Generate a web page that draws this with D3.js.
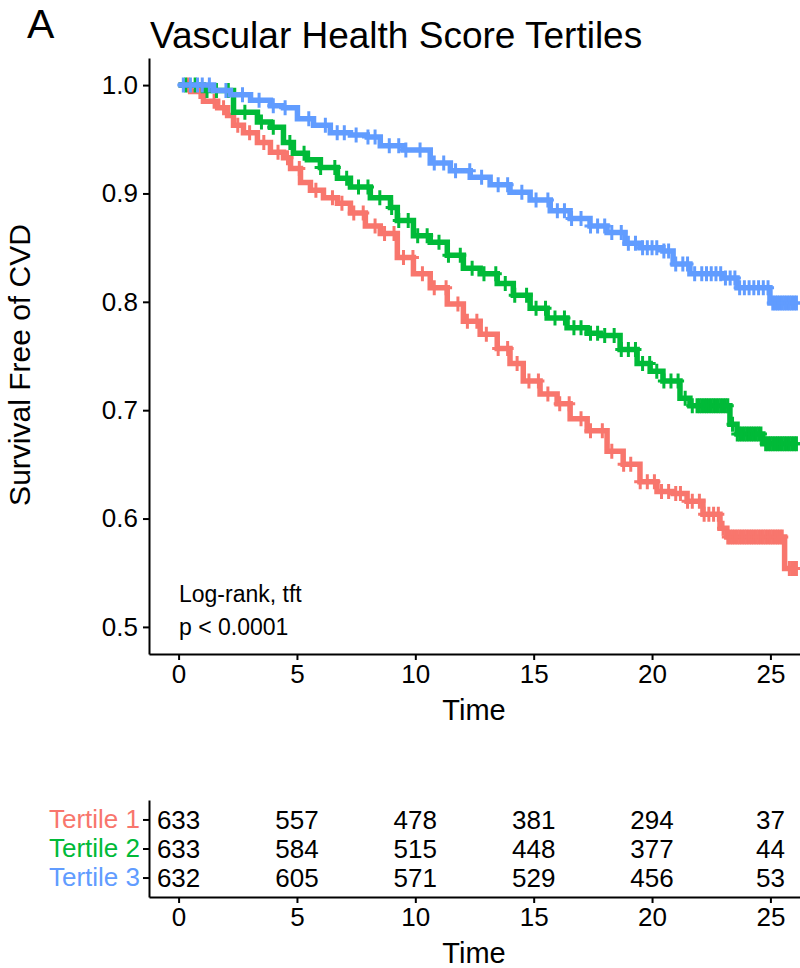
<!DOCTYPE html>
<html>
<head>
<meta charset="utf-8">
<script src="https://cdn.jsdelivr.net/npm/d3@7"></script>
<style>
  body { margin: 0; background: #fff; }
  text { font-family: "Liberation Sans", Arial, sans-serif; }
</style>
</head>
<body>
<div id="chart"></div>
<script>
// survival curves (time in years, survival)
var tertileNames = ["Tertile 1", "Tertile 2", "Tertile 3"];
var tertileColors = ["#F8766D", "#00BA38", "#619CFF"];

var t1Time = [0, 0.51, 1.05, 1.65, 2.07, 2.32, 2.74, 3.33, 3.88, 4.43, 4.73, 5.15, 5.57, 6.12, 6.71, 7.26, 7.89, 8.52, 9.24, 9.92, 10.63, 11.35, 12.03, 12.74, 13.46, 14.0, 14.56, 15.27, 15.99, 16.54, 17.26, 18.1, 18.78, 19.49, 20.21, 20.89, 21.48, 22.15, 22.87, 23.16, 25.6];
var t1Surv = [1.0, 0.994, 0.985, 0.979, 0.972, 0.963, 0.956, 0.947, 0.938, 0.933, 0.923, 0.910, 0.903, 0.896, 0.891, 0.882, 0.870, 0.863, 0.841, 0.826, 0.813, 0.798, 0.782, 0.770, 0.757, 0.743, 0.727, 0.715, 0.706, 0.692, 0.681, 0.662, 0.650, 0.634, 0.625, 0.623, 0.616, 0.604, 0.591, 0.583, 0.554];

var t2Time = [0, 1.05, 2.32, 3.33, 3.88, 4.43, 4.85, 5.44, 5.99, 6.71, 7.26, 8.1, 8.95, 9.24, 9.92, 10.63, 11.35, 12.03, 12.74, 13.46, 14.14, 14.85, 15.57, 16.41, 17.26, 17.81, 18.65, 19.37, 19.92, 20.46, 21.18, 21.6, 23.29, 23.59, 24.68];
var t2Surv = [1.0, 0.995, 0.975, 0.966, 0.961, 0.947, 0.937, 0.931, 0.924, 0.914, 0.906, 0.896, 0.887, 0.875, 0.861, 0.855, 0.843, 0.831, 0.826, 0.817, 0.806, 0.794, 0.785, 0.776, 0.771, 0.769, 0.756, 0.743, 0.736, 0.727, 0.711, 0.704, 0.687, 0.678, 0.669];

var t3Time = [0, 1.48, 2.19, 3.04, 3.88, 4.43, 5.02, 5.7, 6.41, 7.26, 7.97, 8.52, 9.49, 10.63, 11.48, 12.32, 13.16, 14.0, 14.85, 15.7, 16.54, 17.38, 18.1, 18.86, 19.49, 20.46, 20.89, 21.6, 23.0, 23.59, 24.98];
var t3Surv = [1.0, 0.995, 0.991, 0.986, 0.981, 0.979, 0.969, 0.963, 0.956, 0.954, 0.952, 0.944, 0.940, 0.928, 0.921, 0.915, 0.908, 0.901, 0.894, 0.884, 0.877, 0.870, 0.864, 0.854, 0.850, 0.847, 0.835, 0.826, 0.822, 0.813, 0.799];

var lastTime = [26.1, 26.1, 26.1];

// censoring marks
var t1Censor = [0.4, 0.9, 1.5, 1.9, 2.5, 3.0, 3.6, 4.2, 4.6, 5.1, 5.8, 6.5, 6.9, 7.4, 7.8, 8.3, 8.7, 9.1, 9.5, 9.9, 10.3, 10.8, 11.3, 11.8, 12.2, 12.6, 13.0, 13.5, 13.9, 14.3, 14.8, 15.2, 15.6, 16.1, 16.5, 17.0, 17.4, 17.9, 18.3, 18.8, 19.1, 19.5, 19.8, 20.1, 20.4, 20.7, 21.0, 21.2, 21.5, 21.7, 22.0, 22.2, 22.4, 22.6, 22.8, 23.0, 23.2, 23.3, 23.4, 23.5, 23.6, 23.7, 23.8, 23.9, 24.0, 24.1, 24.2, 24.3, 24.4, 24.5, 24.6, 24.7, 24.8, 24.9, 25.0, 25.1, 25.2, 25.3, 25.4, 25.5, 25.8, 25.9, 26.0, 26.1];
var t2Censor = [0.3, 0.7, 1.2, 1.6, 2.1, 2.8, 3.5, 4.0, 4.7, 5.3, 6.0, 6.6, 7.1, 7.6, 8.0, 8.5, 9.0, 9.3, 9.7, 10.1, 10.5, 11.0, 11.4, 11.9, 12.4, 12.9, 13.4, 13.8, 14.2, 14.7, 15.1, 15.5, 15.9, 16.3, 16.7, 17.0, 17.4, 17.7, 18.0, 18.4, 18.7, 19.0, 19.3, 19.6, 19.9, 20.2, 20.5, 20.8, 21.1, 21.4, 21.7, 21.9, 22.0, 22.1, 22.2, 22.3, 22.4, 22.5, 22.6, 22.7, 22.8, 22.9, 23.0, 23.1, 23.2, 23.4, 23.6, 23.7, 23.8, 23.9, 24.0, 24.1, 24.2, 24.3, 24.4, 24.5, 24.6, 24.8, 24.9, 25.0, 25.1, 25.2, 25.3, 25.4, 25.5, 25.6, 25.7, 25.8, 25.9, 26.0, 26.1];
var t3Censor = [0.2, 0.5, 0.8, 1.0, 1.3, 2.0, 2.7, 3.4, 4.0, 4.5, 5.5, 6.2, 6.7, 7.0, 7.5, 8.0, 8.3, 8.9, 9.3, 9.6, 10.2, 10.8, 11.2, 11.7, 12.3, 12.8, 13.5, 13.9, 14.5, 15.1, 15.6, 16.0, 16.3, 16.6, 17.0, 17.4, 17.7, 18.0, 18.3, 18.7, 19.0, 19.3, 19.6, 19.8, 20.0, 20.2, 20.5, 20.7, 21.0, 21.3, 21.5, 21.8, 22.1, 22.3, 22.5, 22.7, 22.9, 23.1, 23.3, 23.5, 23.7, 23.9, 24.1, 24.3, 24.5, 24.7, 24.9, 25.1, 25.2, 25.3, 25.4, 25.5, 25.6, 25.7, 25.8, 25.9, 26.0, 26.1];

// number at risk table
var riskTimes = [0, 5, 10, 15, 20, 25];
var t1Risk = [633, 557, 478, 381, 294, 37];
var t2Risk = [633, 584, 515, 448, 377, 44];
var t3Risk = [632, 605, 571, 529, 456, 53];

var xTicks = [0, 5, 10, 15, 20, 25];
var yTicks = [0.5, 0.6, 0.7, 0.8, 0.9, 1.0];

var groups = [
  { name: tertileNames[0], color: tertileColors[0], time: t1Time, surv: t1Surv, end: lastTime[0], censor: t1Censor, risk: t1Risk },
  { name: tertileNames[1], color: tertileColors[1], time: t2Time, surv: t2Surv, end: lastTime[1], censor: t2Censor, risk: t2Risk },
  { name: tertileNames[2], color: tertileColors[2], time: t3Time, surv: t3Surv, end: lastTime[2], censor: t3Censor, risk: t3Risk }
];

var svg = d3.select("#chart")
  .append("svg")
  .attr("width", 800)
  .attr("height", 968);

var xScale = d3.scaleLinear().domain([-1.25, 26.25]).range([149, 800]);
var yScale = d3.scaleLinear().domain([0.475, 1.025]).range([654, 58]);

function survAt(g, t) {
  var i = d3.bisectRight(g.time, t) - 1;
  return g.surv[Math.max(i, 0)];
}

function styleAxis(sel) {
  sel.selectAll("path, line").attr("stroke", "#000").attr("stroke-width", 2);
  sel.selectAll("text").attr("fill", "#000").attr("font-size", 26)
    .attr("font-family", "'Liberation Sans', Arial, sans-serif");
}

// titles
svg.append("text")
  .attr("x", 27).attr("y", 38)
  .attr("font-size", 41)
  .text("A");

svg.append("text")
  .attr("x", 150).attr("y", 48)
  .attr("font-size", 37)
  .text("Vascular Health Score Tertiles");

// curves
var line = d3.line()
  .curve(d3.curveStepAfter)
  .x(d => xScale(d[0]))
  .y(d => yScale(d[1]));

groups.forEach(function (g) {
  var pts = g.time.map((t, i) => [t, g.surv[i]]);
  pts.push([g.end, g.surv[g.surv.length - 1]]);
  svg.append("path")
    .datum(pts)
    .attr("fill", "none")
    .attr("stroke", g.color)
    .attr("stroke-width", 5.5)
    .attr("d", line);

  svg.append("g").selectAll("path")
    .data(g.censor)
    .enter()
    .append("path")
    .attr("transform", d => `translate(${xScale(d)},${yScale(survAt(g, d))})`)
    .attr("d", "M-6,0H6M0,-7.5V7.5")
    .attr("stroke", g.color)
    .attr("stroke-width", 3);
});

// axes
var yAxis = svg.append("g")
  .attr("transform", "translate(149,0)")
  .call(d3.axisLeft(yScale).tickValues(yTicks).tickFormat(d3.format(".1f")).tickSize(6).tickSizeOuter(0).tickPadding(5));
styleAxis(yAxis);

var xAxis = svg.append("g")
  .attr("transform", "translate(0,654)")
  .call(d3.axisBottom(xScale).tickValues(xTicks).tickSize(6).tickSizeOuter(0).tickPadding(5));
styleAxis(xAxis);

svg.append("text")
  .attr("transform", "translate(30,365) rotate(-90)")
  .attr("text-anchor", "middle")
  .attr("font-size", 30)
  .text("Survival Free of CVD");

svg.append("text")
  .attr("x", 474).attr("y", 720)
  .attr("text-anchor", "middle")
  .attr("font-size", 29)
  .text("Time");

svg.append("text")
  .attr("x", 179).attr("y", 602)
  .attr("font-size", 23)
  .text("Log-rank, tft");

svg.append("text")
  .attr("x", 179).attr("y", 635)
  .attr("font-size", 23)
  .text("p < 0.0001");

// risk table
var rowScale = d3.scalePoint().domain(tertileNames).range([800, 897]).padding(0.67);

groups.forEach(function (g) {
  svg.append("g").selectAll("text")
    .data(riskTimes)
    .enter()
    .append("text")
    .attr("x", d => xScale(d))
    .attr("y", rowScale(g.name))
    .attr("dy", "0.36em")
    .attr("text-anchor", "middle")
    .attr("font-size", 26)
    .text((d, i) => g.risk[i]);
});

var rowAxis = svg.append("g")
  .attr("transform", "translate(149,0)")
  .call(d3.axisLeft(rowScale).tickSize(6).tickSizeOuter(0).tickPadding(3));
styleAxis(rowAxis);
rowAxis.selectAll(".tick text").attr("fill", (d, i) => tertileColors[i]);

var tableXAxis = svg.append("g")
  .attr("transform", "translate(0,897)")
  .call(d3.axisBottom(xScale).tickValues(xTicks).tickSize(6).tickSizeOuter(0).tickPadding(5));
styleAxis(tableXAxis);

svg.append("text")
  .attr("x", 474).attr("y", 963)
  .attr("text-anchor", "middle")
  .attr("font-size", 29)
  .text("Time");
</script>
</body>
</html>
